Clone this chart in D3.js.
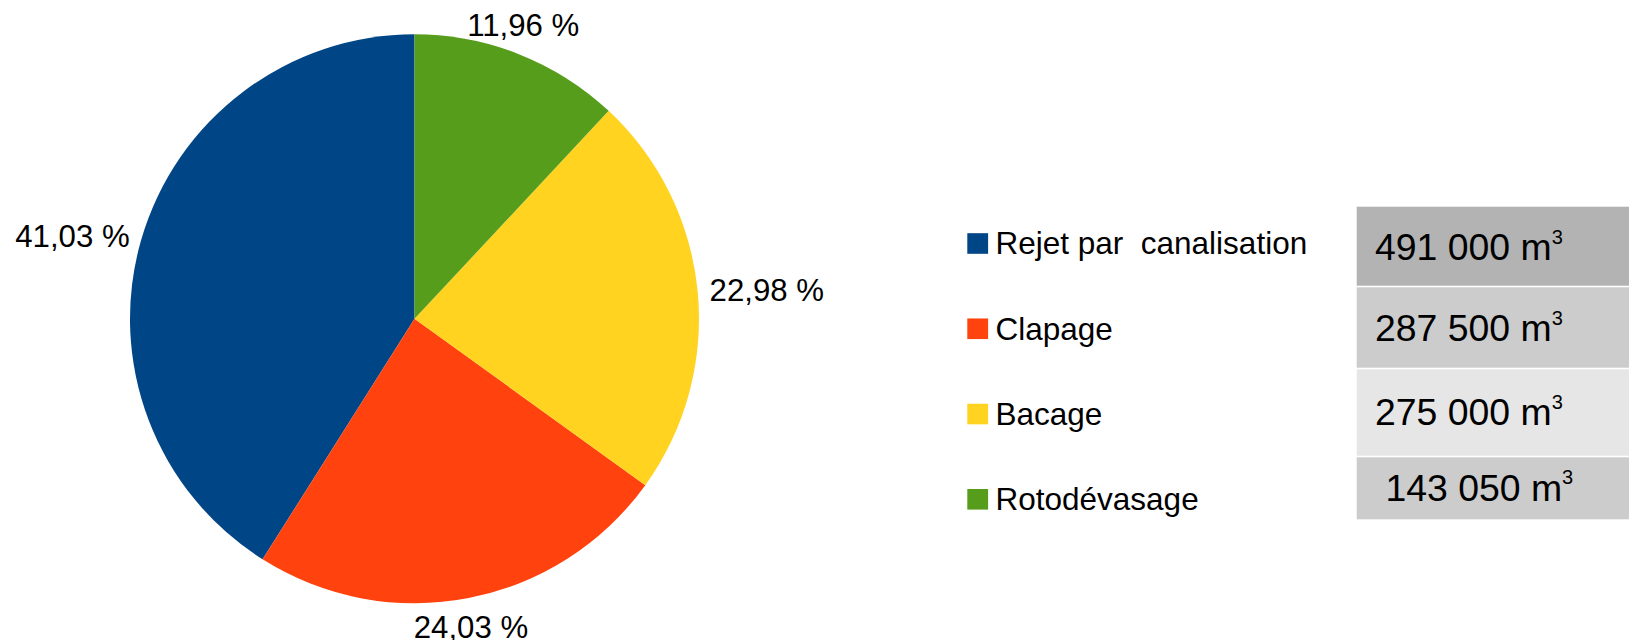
<!DOCTYPE html>
<html>
<head>
<meta charset="utf-8">
<script src="https://cdn.jsdelivr.net/npm/d3@7"></script>
<style>
  html, body { margin: 0; padding: 0; background: #fff; }
  svg { display: block; font-family: "Liberation Sans", Arial, sans-serif; }
</style>
</head>
<body>
<svg id="chart" width="1629" height="640"></svg>
<script>
// donnees
const categories = ["Rejet par  canalisation", "Clapage", "Bacage", "Rotodévasage"];
const volumes = [491000, 287500, 275000, 143050];
const colors = ["#004586", "#ff420e", "#ffd320", "#579d1c"];
const volumeLabels = ["491 000", "287 500", "275 000", " 143 050"];
const cellFills = ["#b3b3b3", "#cccccc", "#e6e6e6", "#cccccc"];

const svg = d3.select("#chart");
const cx = 414.5, cy = 318.8, r = 284.5;

const fr = d3.formatLocale({decimal: ",", thousands: " ", grouping: [3], currency: ["", ""]});
const pct = fr.format(".2f");
const total = d3.sum(volumes);

const color = d3.scaleOrdinal().domain(categories).range(colors);

// camembert, sens anti-horaire depuis midi
const pie = d3.pie().sort(null).value(d => d.v).startAngle(0).endAngle(-2 * Math.PI);
const arc = d3.arc().innerRadius(0).outerRadius(r);
const arcs = pie(categories.map((c, i) => ({c: c, v: volumes[i]})));

const g = svg.append("g").attr("transform", "translate(" + cx + "," + cy + ")");
g.selectAll("path")
  .data(arcs)
  .enter()
  .append("path")
  .attr("d", arc)
  .style("fill", d => color(d.data.c));

// etiquettes en pourcentage
const fs = 31.2;
g.selectAll("text.pct")
  .data(arcs)
  .enter()
  .append("text")
  .attr("class", "pct")
  .style("font-size", fs + "px")
  .style("fill", "#000")
  .each(function(d) {
    const a = (d.startAngle + d.endAngle) / 2;
    const s = Math.sin(a), c = Math.cos(a);
    const R = r + 12;
    const ax = R * s, ay = -R * c;
    let anchor, by;
    if (Math.abs(s) > 0.707) {
      anchor = s > 0 ? "start" : "end";
      by = ay + 0.3465 * fs;
    } else {
      anchor = "middle";
      by = c > 0 ? ay - 0.212 * fs : ay + 0.905 * fs;
    }
    d3.select(this)
      .attr("x", ax)
      .attr("y", by)
      .attr("text-anchor", anchor)
      .text(pct(d.data.v / total * 100) + " %");
  });

// legende
const legendY = d3.scalePoint().domain(categories).range([243.5, 499.3]);
const leg = svg.append("g");
leg.selectAll("rect")
  .data(categories)
  .enter()
  .append("rect")
  .attr("x", 967.3)
  .attr("y", d => legendY(d) - 10.3)
  .attr("width", 20.8)
  .attr("height", 20.6)
  .style("fill", d => color(d));
leg.selectAll("text")
  .data(categories)
  .enter()
  .append("text")
  .attr("x", 995.5)
  .attr("y", d => legendY(d) + 10.8)
  .attr("xml:space", "preserve")
  .style("white-space", "pre")
  .style("font-size", "31.5px")
  .style("fill", "#000")
  .text(d => d);

// tableau des volumes
const rows = [
  {y: 206.7, h: 79, base: 260},
  {y: 287.3, h: 80.4, base: 341},
  {y: 369.3, h: 86.4, base: 425.3},
  {y: 457.3, h: 62, base: 500.7}
];
const tab = svg.append("g");
tab.selectAll("rect")
  .data(volumeLabels)
  .enter()
  .append("rect")
  .attr("x", 1356.7)
  .attr("y", (d, i) => rows[i].y)
  .attr("width", 1629 - 1356.7)
  .attr("height", (d, i) => rows[i].h)
  .style("fill", (d, i) => cellFills[i]);

const cells = tab.selectAll("text")
  .data(volumeLabels)
  .enter()
  .append("text")
  .attr("x", 1375)
  .attr("y", (d, i) => rows[i].base)
  .attr("xml:space", "preserve")
  .style("white-space", "pre")
  .style("font-size", "37.4px")
  .style("fill", "#000");
cells.append("tspan").text(d => d + " m");
cells.append("tspan")
  .attr("dy", -16.4)
  .style("font-size", "20px")
  .text("3");
</script>
</body>
</html>
